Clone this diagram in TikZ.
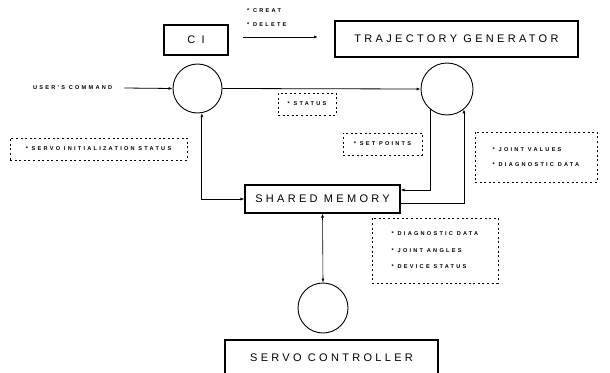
\documentclass[tikz,border=0pt]{standalone}
\usepackage{fontspec}
\setmainfont{Liberation Sans}
\newfontfamily\bigf[LetterSpace=30]{Liberation Sans}
\newfontfamily\smallf[LetterSpace=40]{Liberation Sans Bold}
\usetikzlibrary{arrows.meta}
\begin{document}
\begin{tikzpicture}[x=1pt,y=-1pt,
  box/.style={draw, line width=1.1pt, inner sep=0pt, font=\bigf\fontsize{11}{13}\selectfont},
  proc/.style={draw, circle, line width=0.9pt, inner sep=0pt},
  note/.style={draw, line width=0.9pt, dash pattern=on 2pt off 2.6pt, inner sep=0pt,
    align=left, font=\smallf\fontsize{5.6}{6.5}\selectfont},
  lbl/.style={inner sep=0pt, font=\smallf\fontsize{5.6}{6.5}\selectfont},
  tip/.tip={Latex[length=4pt,width=3pt]},
  flow/.style={line width=0.8pt, -tip},
  both/.style={line width=0.8pt, tip-tip}]
\useasboundingbox (0,0) rectangle (610,372);
\clip (0,0) rectangle (610,372);
% boxes
\node[box, minimum width=64pt, minimum height=30pt] (ci) at (196,40) {C I};
\node[box, minimum width=243pt, minimum height=36pt] (tg) at (456.5,39) {TRAJECTORY GENERATOR};
\node[box, minimum width=155pt, minimum height=28pt] (sm) at (322.5,199) {SHARED MEMORY};
\node[box, minimum width=213pt, minimum height=36pt] (sc) at (331.5,358) {SERVO CONTROLLER};
% circles
\node[proc, minimum size=49pt] (lc) at (197.5,88.5) {};
\node[proc, minimum size=52pt] (rc) at (447,89) {};
\node[proc, minimum size=50pt] (scc) at (323,308) {};
% labels
\node[lbl, anchor=west] (creat) at (247,11) {* CREAT};
\node[lbl, anchor=west] (delete) at (247,25) {* DELETE};
\node[lbl, anchor=west] (user) at (33,88) {USER'S COMMAND};
% dotted notes
\node[note, minimum width=58pt, minimum height=22pt] (status) at (307,104) {* STATUS};
\node[note, minimum width=177pt, minimum height=22pt] (sinit) at (98.5,149) {* SERVO INITIALIZATION STATUS};
\node[note, minimum width=79pt, minimum height=22pt] (setp) at (382.5,144) {* SET POINTS};
\node[note, minimum width=122pt, minimum height=50pt] (jv) at (536,157) {* JOINT VALUES\\[9pt]* DIAGNOSTIC DATA};
\node[note, minimum width=126pt, minimum height=65pt] (diag) at (435,250.5) {* DIAGNOSTIC DATA\\[10pt]* JOINT ANGLES\\[10pt]* DEVICE STATUS};
% connectors
\coordinate (a1) at (243,37);
\coordinate (a2) at (318,37);
\draw[flow] (a1) -- (a2);
\draw[flow] ([xshift=12pt]user.east) -- (lc.west);
\draw[flow] (lc.east) -- (rc.west);
\draw[both] (lc.-80) |- (sm.west);
\draw[flow] (rc.-130) |- ([yshift=9pt]sm.east);
\draw[flow] ([yshift=-4pt]sm.east) -| (rc.-50);
\draw[both, line width=0.6pt] (sm.south) -- (scc.north);
\end{tikzpicture}
\end{document}
